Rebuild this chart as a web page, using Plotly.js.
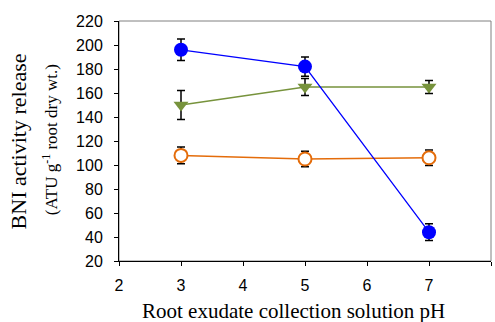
<!DOCTYPE html>
<html><head><meta charset="utf-8">
<script src="https://cdn.plot.ly/plotly-3.0.1.min.js"></script>
<style>html,body{margin:0;padding:0;background:#fff}#chart{width:495px;height:322px}</style>
</head><body><div id="chart"></div>
<script>
var ph = [3, 5, 7];
var blueVals = [196, 182, 44];
var blueErr = [9, 8, 7];
var greenVals = [150, 165, 165];
var greenErr = [12, 7, 5.5];
var orangeVals = [108, 105, 106];
var orangeErr = [7, 6.5, 6.5];
var xTicks = [2, 3, 4, 5, 6, 7, 8];
var yTicks = [20, 40, 60, 80, 100, 120, 140, 160, 180, 200, 220];

function errObj(arr){return {type:'data', array:arr, visible:true, color:'#000', thickness:1.5, width:4};}

var traces = [
  {x: ph, y: orangeVals, error_y: errObj(orangeErr), mode:'lines+markers', type:'scatter',
   line:{color:'#E46C0A', width:1.5},
   marker:{symbol:'circle', size:13, color:'#fff', line:{color:'#E46C0A', width:2}}},
  {x: ph, y: greenVals, error_y: errObj(greenErr), mode:'lines+markers', type:'scatter',
   line:{color:'#77933C', width:1.5},
   marker:{symbol:'triangle-down', size:13, color:'#77933C'}},
  {x: ph, y: blueVals, error_y: errObj(blueErr), mode:'lines+markers', type:'scatter',
   line:{color:'#0000FF', width:1.3},
   marker:{symbol:'circle', size:14, color:'#0000FF'}}
];

var tickFont = {family:'Liberation Sans Narrow, Arial Narrow, sans-serif', size:16, color:'#000'};
var serif = 'Liberation Serif, Times New Roman, serif';
var layout = {
  width:495, height:322,
  margin:{l:119, r:4, t:21, b:61},
  paper_bgcolor:'#fff', plot_bgcolor:'#fff',
  showlegend:false,
  xaxis:{range:[2,8], tickvals:xTicks, ticktext:xTicks.map(String), showgrid:false, zeroline:false,
    showline:true, linecolor:'#000', linewidth:1, ticks:'outside', ticklen:4, tickcolor:'#000',
    tickfont:tickFont, ticklabelstandoff:6},
  yaxis:{range:[20,220], tickvals:yTicks, ticktext:yTicks.map(String), showgrid:false, zeroline:false,
    showline:true, linecolor:'#000', linewidth:1, ticks:'outside', ticklen:4, tickcolor:'#000',
    tickfont:tickFont, ticklabelstandoff:8},
  shapes:[{type:'rect', xref:'paper', yref:'paper', x0:0, x1:1, y0:0, y1:1, line:{color:'#808080', width:1}, layer:'below'}],
  annotations:[
    {text:'BNI activity release', xref:'paper', yref:'paper', x:-0.269, y:0.498, xanchor:'center', yanchor:'middle',
     textangle:-90, showarrow:false, font:{family:serif, size:22, color:'#000'}},
    {text:'(ATU g<sup>-1</sup> root dry wt.)', xref:'paper', yref:'paper', x:-0.185, y:0.504, xanchor:'center', yanchor:'middle',
     textangle:-90, showarrow:false, font:{family:serif, size:17, color:'#000'}},
    {text:'Root exudate collection solution pH', xref:'paper', yref:'paper', x:0.47, y:-0.208, xanchor:'center', yanchor:'middle',
     showarrow:false, font:{family:serif, size:21, color:'#000'}}
  ]
};
Plotly.newPlot('chart', traces, layout, {displayModeBar:false, staticPlot:true});
</script></body></html>
